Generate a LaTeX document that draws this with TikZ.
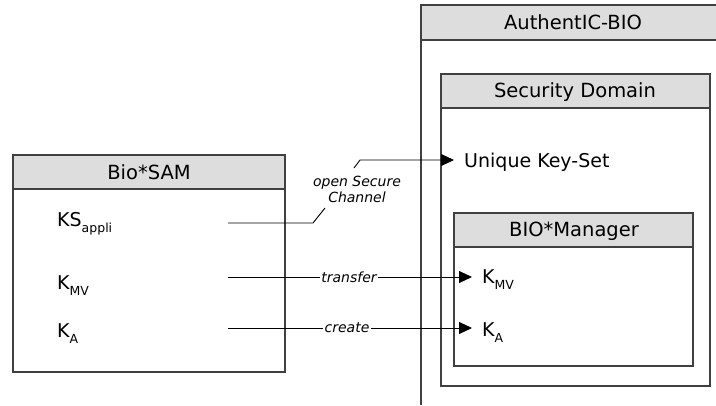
\documentclass[tikz,border=0pt]{standalone}
\usepackage{fontspec}
\setmainfont{DejaVu Sans}
\usetikzlibrary{arrows.meta}
\definecolor{headgray}{HTML}{DDDDDD}
\definecolor{framegray}{HTML}{404040}
\newcommand{\keysub}[1]{\raisebox{-6bp}{\fontsize{12.5bp}{14bp}\selectfont #1}}
\begin{document}
\begin{tikzpicture}[x=1bp, y=-1bp,
    frame/.style={draw=framegray, line width=1.4bp},
    head/.style={fill=headgray, draw=framegray, line width=1.4bp},
    title/.style={font=\fontsize{19.5bp}{22bp}\selectfont, inner sep=0pt, text height=14bp, text depth=0pt},
    key/.style={font=\fontsize{19bp}{22bp}\selectfont, inner xsep=10bp, inner ysep=0pt, text height=14bp, text depth=0pt, anchor=west},
    lbl/.style={font=\fontsize{14bp}{16bp}\selectfont\itshape, inner sep=1.5bp, align=center},
    conn/.style={line width=0.9bp},
    tip/.style={-{Triangle[length=13bp,width=12bp]}}]
        \useasboundingbox (0,0) rectangle (716,405);
        % Bio*SAM
        \filldraw[head] (13,155) rectangle (285,189);
        \draw[frame] (13,155) rectangle (285,372);
        \node[title] (sam) at (149,172) {Bio*SAM};
        \node[key] (ksa) at (47,219) {KS\keysub{appli}};
        \node[key] (kmva) at (47,282) {K\keysub{MV}};
        \node[key] (kaa) at (47,330) {K\keysub{A}};
        % AuthentIC-BIO
        \fill[headgray] (421,5) rectangle (716,40);
        \draw[frame] (716,5) -- (421,5) -- (421,405);
        \draw[frame] (421,40) -- (716,40);
        \node[title] (auth) at (573,22) {AuthentIC-BIO};
        % Security Domain
        \filldraw[head] (441,74) rectangle (710,108);
        \draw[frame] (441,74) rectangle (710,386);
        \node[title] (sd) at (575,90) {Security Domain};
        \node[key] (uks) at (454,160) {Unique Key-Set};
        % BIO*Manager
        \filldraw[head] (454,213) rectangle (693,247);
        \draw[frame] (454,213) rectangle (693,366);
        \node[title] (mgr) at (574,229) {BIO*Manager};
        \node[key] (kmvb) at (472,276) {K\keysub{MV}};
        \node[key] (kab) at (472,329) {K\keysub{A}};
        % connectors
        \coordinate (ksout) at (228,223);
        \coordinate (kmvout) at (228,277);
        \coordinate (kaout) at (228,328);
        \node[lbl] (osc) at (357,189) {open Secure\\Channel};
        \node[lbl] (trans) at (349,277) {transfer};
        \node[lbl] (creat) at (347,328) {create};
        \draw[conn] (ksout) -- (313,223) -- (325,208);
        \draw[conn, tip] (354,168) -- (360,160) -- (uks.west);
        \draw[conn] (kmvout) -- (trans);
        \draw[conn, tip] (trans) -- (kmvb.west |- trans);
        \draw[conn] (kaout) -- (creat);
        \draw[conn, tip] (creat) -- (kab.west |- creat);
\end{tikzpicture}
\end{document}
